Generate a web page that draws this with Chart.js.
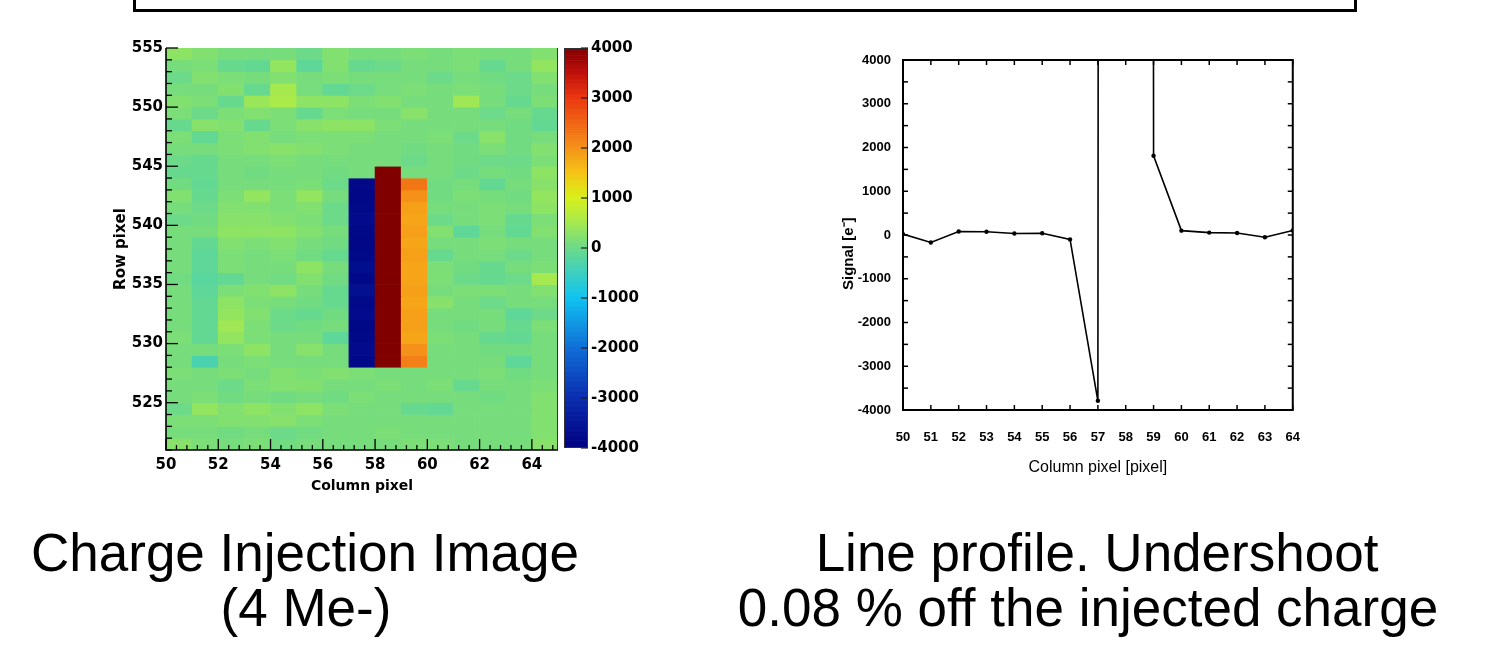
<!DOCTYPE html>
<html><head><meta charset="utf-8">
<script src="https://cdn.jsdelivr.net/npm/chart.js@4.4.1/dist/chart.umd.min.js"></script>
<style>
html,body{margin:0;padding:0;background:#fff;}
body{width:1493px;height:646px;overflow:hidden;position:relative;font-family:"Liberation Sans",Arial,sans-serif;}
#topbox{position:absolute;left:133px;top:-20px;width:1218px;height:26px;border:3px solid #000;}
.cap{position:absolute;font-size:53px;line-height:56px;white-space:nowrap;transform:translateX(-50%);color:#000;}
canvas{position:absolute;}
</style></head><body>
<div id="topbox"></div>
<canvas id="heat" width="460" height="470" style="left:100px;top:30px;width:460px;height:470px"></canvas>
<canvas id="cbar" width="95" height="470" style="left:555px;top:30px;width:95px;height:470px"></canvas>
<canvas id="prof" width="520" height="450" style="left:800px;top:40px;width:520px;height:450px"></canvas>
<div class="cap" style="left:305px;top:525px">Charge Injection Image</div>
<div class="cap" style="left:306px;top:580px">(4 Me-)</div>
<div class="cap" style="left:1097px;top:525px">Line profile. Undershoot</div>
<div class="cap" style="left:1088px;top:580px">0.08 % off the injected charge</div>
<script>
// ---------------- data ----------------
const columns = [50,51,52,53,54,55,56,57,58,59,60,61,62,63,64];
const rows = [554,553,552,551,550,549,548,547,546,545,544,543,542,541,540,539,538,537,536,535,534,533,532,531,530,529,528,527,526,525,524,523,522,521];
const INJ = 4000000;
// signal [e-] per row (top to bottom), per column 50..64
const signalGrid = [
 [300,200,100,100,100,0,200, 100,100,150,100,150,100,100,200],
 [100,150,-50,-100,350,-150,200, -50,0,100,100,150,-50,100,350],
 [0,200,150,100,200,100,150, 100,100,100,0,100,50,0,200],
 [100,100,200,-50,500,100,-100, 0,100,150,100,150,100,0,100],
 [200,150,-50,400,550,300,300, 150,200,100,100,450,100,-50,150],
 [150,0,150,200,150,-50,150, 100,100,250,100,100,0,100,-50],
 [-50,250,200,-50,150,250,300, 300,150,100,100,100,100,50,-100],
 [150,-100,150,200,100,150,150, 150,100,100,150,0,250,50,100],
 [100,100,150,200,250,200,150, 100,100,50,100,50,150,50,200],
 [0,-50,100,100,150,100,100, 100,100,0,100,50,0,0,150],
 [-50,-50,100,50,100,100,50, 100,INJ,100,100,0,100,50,300],
 [50,-100,100,100,100,150,0, -3800,INJ,2300,50,100,-100,100,250],
 [200,-50,150,350,150,350,100, -3850,INJ,2000,50,150,100,50,350],
 [100,0,200,200,150,200,0, -3800,INJ,1850,100,100,150,100,300],
 [0,50,250,250,200,150,0, -3750,INJ,1800,0,100,150,-50,150],
 [100,100,300,300,300,200,100, -3800,INJ,1850,200,-150,100,-100,200],
 [100,-100,200,150,200,100,50, -3850,INJ,1800,100,100,150,100,100],
 [100,-150,150,100,150,50,-50, -3800,INJ,1850,-50,100,100,0,100],
 [100,-150,150,100,100,300,100, -3700,INJ,1800,150,50,-50,100,150],
 [50,-200,-100,100,50,200,50, -3800,INJ,1800,150,0,-50,0,500],
 [100,-150,150,200,300,100,-50, -3650,INJ,1850,100,150,150,100,200],
 [100,-100,300,150,100,50,-50, -3800,INJ,1800,250,100,0,100,100],
 [100,-100,350,200,0,-50,50, -3750,INJ,1850,100,100,100,-150,0],
 [100,-100,450,150,0,50,100, -3850,INJ,1850,100,50,100,-50,150],
 [150,-100,350,150,100,100,-150, -3800,INJ,1800,150,100,-50,-100,100],
 [100,100,150,300,100,250,100, -3750,INJ,2000,100,100,50,50,100],
 [100,-350,100,150,100,100,100, -3800,INJ,2200,100,100,100,-150,100],
 [150,100,150,100,200,150,200, 150,100,100,100,100,150,50,100],
 [100,100,0,150,200,200,100, 100,150,100,150,-50,100,100,150],
 [100,150,50,100,50,100,50, 150,100,100,100,100,50,100,200],
 [0,350,200,300,200,300,150, 100,100,-50,-100,100,100,100,200],
 [150,150,200,200,250,150,100, 100,100,100,100,100,100,100,200],
 [100,100,50,100,0,50,100, 100,150,100,100,100,100,100,200],
 [250,150,100,150,50,100,100, 100,100,150,150,100,100,100,250]
];
const heatTicksX = [50,52,54,56,58,60,62,64];
const heatTicksY = [525,530,535,540,545,550,555];
const colorbarTicks = [-4000,-3000,-2000,-1000,0,1000,2000,3000,4000];

const profileColumns = [50,51,52,53,54,55,56,57,58,59,60,61,62,63,64];
const profileSignal = [20,-170,80,75,35,40,-100,-3790,4000000,1810,100,55,45,-50,105];
const profileTicksY = [-4000,-3000,-2000,-1000,0,1000,2000,3000,4000];

// ---------------- colour map (style) ----------------
const cmap = [
 [-4000,[0,0,128]],[-3000,[10,45,175]],[-2000,[15,110,215]],[-1000,[15,195,240]],
 [-500,[60,207,192]],[0,[108,218,136]],[250,[135,225,106]],[500,[165,233,78]],
 [1000,[215,240,25]],[1500,[245,195,20]],[2000,[245,145,25]],[2500,[240,100,20]],
 [3000,[235,55,15]],[3500,[190,15,10]],[4000,[128,0,0]]
];
function colorFor(v){
  if (v <= cmap[0][0]) return 'rgb('+cmap[0][1].join(',')+')';
  for (let i=1;i<cmap.length;i++){
    if (v <= cmap[i][0]){
      const [a,ca]=cmap[i-1],[b,cb]=cmap[i];
      const t=(v-a)/(b-a);
      return 'rgb('+ca.map((c,k)=>Math.round(c+(cb[k]-c)*t)).join(',')+')';
    }
  }
  return 'rgb('+cmap[cmap.length-1][1].join(',')+')';
}
const plain = v => String(v);

Chart.defaults.animation = false;
Chart.defaults.plugins.legend.display = false;
Chart.defaults.plugins.tooltip.enabled = false;
Chart.defaults.color = '#000';

const heatFont = {family:'"DejaVu Sans", sans-serif', weight:'bold', size:15};

// ---------------- heatmap ----------------
const heatAxesPlugin = {
  id:'heatAxes',
  afterDatasetsDraw(chart){
    const {ctx, chartArea:a, scales:{x,y}} = chart;
    ctx.save();
    ctx.strokeStyle='#333'; ctx.lineWidth=1;
    ctx.beginPath(); ctx.moveTo(a.right-0.5,a.top); ctx.lineTo(a.right-0.5,a.bottom); ctx.stroke();
    ctx.strokeStyle='#000'; ctx.lineWidth=1.6;
    ctx.beginPath(); ctx.moveTo(a.left,a.top); ctx.lineTo(a.left,a.bottom); ctx.lineTo(a.right,a.bottom); ctx.stroke();
    ctx.lineWidth=1.3;
    for (let v=y.min; v<=y.max; v++){
      const py=y.getPixelForValue(v); const len=(v%5===0)?12:6;
      ctx.beginPath(); ctx.moveTo(a.left,py); ctx.lineTo(a.left+len,py); ctx.stroke();
    }
    for (let k=0; 50+0.4*k<=x.max+1e-6; k++){
      const px=x.getPixelForValue(50+0.4*k); const len=(k%5===0)?11:5;
      ctx.beginPath(); ctx.moveTo(px,a.bottom); ctx.lineTo(px,a.bottom-len); ctx.stroke();
    }
    ctx.restore();
  }
};
new Chart(document.getElementById('heat'), {
  type:'bar',
  data:{ datasets: rows.map((r,i)=>({
    data: columns.map(c=>({x:c+0.5, y:[r, r+1]})),
    backgroundColor: columns.map((c,j)=>colorFor(signalGrid[i][j])),
    borderWidth:0, grouped:false, barPercentage:1, categoryPercentage:1
  }))},
  options:{
    responsive:false,
    layout:{padding:{left:0,right:2,top:18,bottom:0}},
    scales:{
      x:{type:'linear', min:50, max:65, offset:false,
         afterBuildTicks:s=>{s.ticks=heatTicksX.map(v=>({value:v}));},
         afterFit:s=>{s.height=50;},
         grid:{display:false, drawTicks:false, offset:false}, border:{display:false},
         ticks:{font:heatFont, padding:6, maxRotation:0, autoSkip:false, callback:plain},
         title:{display:true, text:'Column pixel', font:{family:'"DejaVu Sans", sans-serif', weight:'bold', size:14}, padding:{top:0,bottom:5}}},
      y:{type:'linear', min:521, max:555,
         afterBuildTicks:s=>{s.ticks=heatTicksY.map(v=>({value:v}));},
         afterFit:s=>{s.width=66;},
         grid:{display:false, drawTicks:false}, border:{display:false},
         ticks:{font:heatFont, padding:3, autoSkip:false, callback:plain},
         title:{display:true, text:'Row pixel', font:{family:'"DejaVu Sans", sans-serif', weight:'bold', size:15}, padding:{top:12,bottom:0}}}
    }
  },
  plugins:[heatAxesPlugin]
});

// ---------------- colour bar ----------------
const cbLevels = [];
for (let v=-4000; v<4000; v+=50) cbLevels.push(v);
const cbPlugin = {
  id:'cbTicks',
  afterDatasetsDraw(chart){
    const {ctx, chartArea:a, scales:{y}} = chart;
    ctx.save();
    ctx.strokeStyle='#333'; ctx.lineWidth=1;
    ctx.strokeRect(a.left+0.5,a.top+0.5,a.right-a.left-1,a.bottom-a.top-1);
    ctx.strokeStyle='#222'; ctx.lineWidth=1.2;
    colorbarTicks.forEach(v=>{const py=y.getPixelForValue(v);
      ctx.beginPath(); ctx.moveTo(a.right,py); ctx.lineTo(a.right-7,py); ctx.stroke();});
    ctx.restore();
  }
};
new Chart(document.getElementById('cbar'), {
  type:'bar',
  data:{ labels:[''], datasets: cbLevels.map(v=>({
    data:[[v, v+50]], backgroundColor: colorFor(v+25),
    borderWidth:0, grouped:false, barPercentage:1, categoryPercentage:1 })) },
  options:{
    responsive:false,
    layout:{padding:{left:9,right:0,top:18,bottom:52}},
    scales:{
      x:{display:false},
      y:{type:'linear', position:'right', min:-4000, max:4000,
         afterBuildTicks:s=>{s.ticks=colorbarTicks.map(v=>({value:v}));},
         afterFit:s=>{s.width=62;},
         grid:{display:false, drawTicks:false}, border:{display:false},
         ticks:{font:{family:'"DejaVu Sans", sans-serif', weight:'bold', size:15}, padding:3, autoSkip:false, callback:plain}}
    }
  },
  plugins:[cbPlugin]
});

// ---------------- line profile ----------------
const profFont = {family:'"Liberation Sans Narrow","Liberation Sans",sans-serif', weight:'bold', size:13};
const profFramePlugin = {
  id:'profFrame',
  afterDatasetsDraw(chart){
    const {ctx, chartArea:a, scales:{x,y}} = chart;
    ctx.save();
    ctx.strokeStyle='#000'; ctx.lineWidth=2;
    ctx.strokeRect(a.left,a.top,a.right-a.left,a.bottom-a.top);
    ctx.lineWidth=1.5;
    for (let v=y.min; v<=y.max; v+=500){
      const py=y.getPixelForValue(v);
      ctx.beginPath(); ctx.moveTo(a.left,py); ctx.lineTo(a.left+5,py); ctx.stroke();
      ctx.beginPath(); ctx.moveTo(a.right,py); ctx.lineTo(a.right-5,py); ctx.stroke();
    }
    profileColumns.forEach(c=>{
      const px=x.getPixelForValue(c);
      ctx.beginPath(); ctx.moveTo(px,a.top); ctx.lineTo(px,a.top+5); ctx.stroke();
      ctx.beginPath(); ctx.moveTo(px,a.bottom); ctx.lineTo(px,a.bottom-5); ctx.stroke();
    });
    ctx.restore();
  }
};
new Chart(document.getElementById('prof'), {
  type:'line',
  data:{ datasets:[{
    data: profileColumns.map((c,i)=>({x:c, y:profileSignal[i]})),
    borderColor:'#000', borderWidth:1.6, tension:0,
    pointRadius:2.2, pointBackgroundColor:'#000', pointBorderWidth:0
  }]},
  options:{
    responsive:false,
    layout:{padding:{left:0,right:15,top:20,bottom:0}},
    scales:{
      x:{type:'linear', min:50, max:64,
         afterBuildTicks:s=>{s.ticks=profileColumns.map(v=>({value:v}));},
         afterFit:s=>{s.height=80;},
         grid:{display:false, drawTicks:false}, border:{display:false},
         ticks:{font:profFont, padding:20, maxRotation:0, autoSkip:false, callback:plain},
         title:{display:true, text:'Column pixel [pixel]', font:{family:'"Liberation Sans Narrow","Liberation Sans",sans-serif', size:16}, padding:{top:0,bottom:13}}},
      y:{type:'linear', min:-4000, max:4000,
         afterBuildTicks:s=>{s.ticks=profileTicksY.map(v=>({value:v}));},
         afterFit:s=>{s.width=103;},
         grid:{display:false, drawTicks:false}, border:{display:false},
         ticks:{font:profFont, padding:12, autoSkip:false, callback:plain},
         title:{display:true, text:'Signal [e\u207B]         ', font:{family:'"Liberation Sans Narrow","Liberation Sans",sans-serif', weight:'bold', size:15}, padding:{top:40,bottom:0}}}
    }
  },
  plugins:[profFramePlugin]
});
</script>
</body></html>
